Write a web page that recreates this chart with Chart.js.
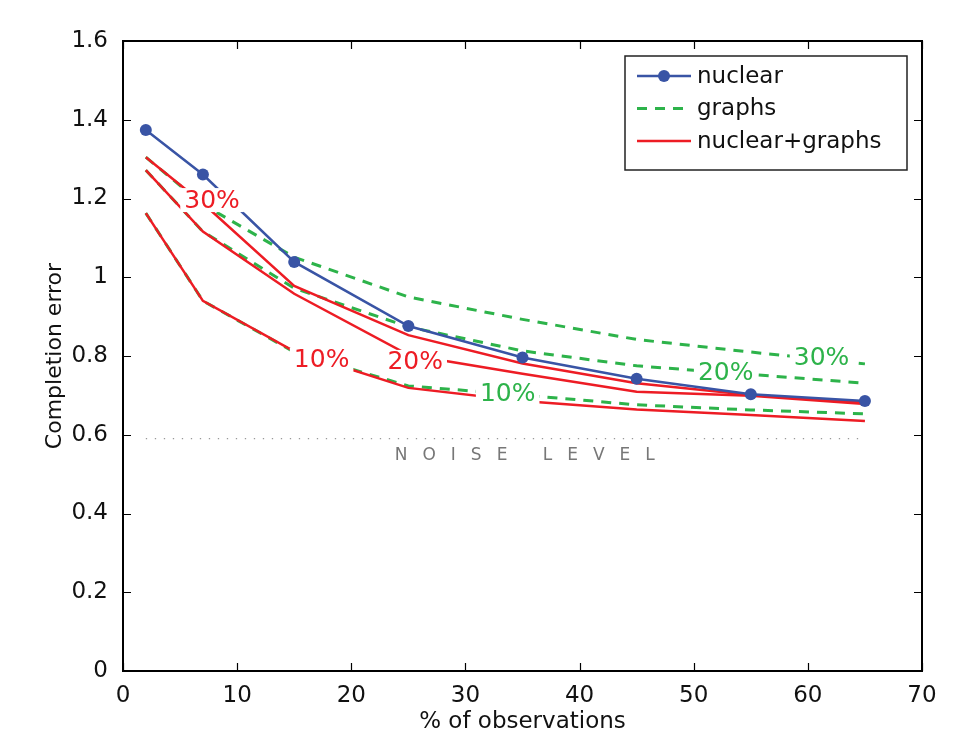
<!DOCTYPE html>
<html>
<head>
<meta charset="utf-8">
<script src="https://cdn.jsdelivr.net/npm/chart.js@4.4.1/dist/chart.umd.min.js"></script>
<style>
  body { margin: 0; background: #fff; }
  #myChart { display: block; }
</style>
</head>
<body>
<canvas id="myChart" width="974" height="731"></canvas>
<script>
"use strict"
// Daten
const xObs = [2, 7, 15, 25, 35, 45, 55, 65]           // % of observations
const nuclear   = [1.374, 1.261, 1.039, 0.876, 0.796, 0.742, 0.703, 0.686]
const graphs30  = [1.305, 1.185, 1.051, 0.950, 0.893, 0.842, 0.810, 0.780]
const graphs20  = [1.272, 1.116, 0.972, 0.874, 0.813, 0.775, 0.753, 0.731]
const graphs10  = [1.163, 0.940, 0.810, 0.724, 0.701, 0.676, 0.663, 0.653]
const both30    = [1.305, 1.188, 0.978, 0.853, 0.781, 0.731, 0.701, 0.681]
const both20    = [1.272, 1.116, 0.958, 0.803, 0.755, 0.709, 0.699, 0.678]
const both10    = [1.163, 0.940, 0.812, 0.719, 0.686, 0.664, 0.650, 0.635]
const noiseLevel = 0.59
const noiseRange = [2, 65]
const legendLabels = ['nuclear', 'graphs', 'nuclear+graphs']
const curveLabels = ['30%', '20%', '10%']
const yTickLabels = ['0', '0.2', '0.4', '0.6', '0.8', '1', '1.2', '1.4', '1.6']
const xTickLabels = ['0', '10', '20', '30', '40', '50', '60', '70']

const FONT = '"DejaVu Sans", "Liberation Sans", sans-serif'
const BLUE = '#3954a5'
const GREEN = '#2db34a'
const RED = '#ed1c24'

function pts(values) {
    return xObs.map((x, i) => ({ x: x, y: values[i] }))
}

// Beschriftungen an den Kurven (Position in Datenkoordinaten)
const curveTexts = [
    { text: curveLabels[0], x: 7.8,  y: 1.196, color: RED },
    { text: curveLabels[2], x: 17.4, y: 0.790, color: RED },
    { text: curveLabels[1], x: 25.6, y: 0.785, color: RED },
    { text: curveLabels[2], x: 33.7, y: 0.706, color: GREEN },
    { text: curveLabels[1], x: 52.8, y: 0.757, color: GREEN },
    { text: curveLabels[0], x: 61.2, y: 0.795, color: GREEN }
]

const lineBase = { fill: false, tension: 0, pointRadius: 0, borderWidth: 2.5 }

// erster Datensatz wird zuletzt (oben) gezeichnet
const datasets = [
    Object.assign({}, lineBase, { label: legendLabels[0], data: pts(nuclear), borderColor: BLUE,
        backgroundColor: BLUE, pointRadius: 6, pointBackgroundColor: BLUE, pointBorderWidth: 0, legendRow: 0 }),
    Object.assign({}, lineBase, { label: legendLabels[2], data: pts(both30), borderColor: RED, legendRow: 2 }),
    Object.assign({}, lineBase, { label: legendLabels[2], data: pts(both20), borderColor: RED }),
    Object.assign({}, lineBase, { label: legendLabels[2], data: pts(both10), borderColor: RED }),
    Object.assign({}, lineBase, { label: legendLabels[1], data: pts(graphs30), borderColor: GREEN, borderDash: [10, 8], borderWidth: 3, legendRow: 1 }),
    Object.assign({}, lineBase, { label: legendLabels[1], data: pts(graphs20), borderColor: GREEN, borderDash: [10, 8], borderWidth: 3 }),
    Object.assign({}, lineBase, { label: legendLabels[1], data: pts(graphs10), borderColor: GREEN, borderDash: [10, 8], borderWidth: 3 }),
    Object.assign({}, lineBase, { label: 'noise', data: noiseRange.map(x => ({ x: x, y: noiseLevel })),
        borderColor: '#999', borderWidth: 1.3, borderDash: [1.3, 7.7] })
]

// Rahmen, Ticks nach innen, Texte und Legende
const extras = {
    id: 'extras',
    afterDatasetsDraw(chart) {
        const ctx = chart.ctx
        const xs = chart.scales.x, ys = chart.scales.y
        ctx.save()
        ctx.font = '25px ' + FONT
        ctx.textAlign = 'center'
        ctx.textBaseline = 'middle'
        curveTexts.forEach(t => {
            const px = xs.getPixelForValue(t.x), py = ys.getPixelForValue(t.y)
            const w = ctx.measureText(t.text).width
            ctx.fillStyle = '#fff'
            ctx.fillRect(px - w / 2 - 4, py - 12, w + 8, 24)
            ctx.fillStyle = t.color
            ctx.fillText(t.text, px, py + 1)
        })
        // NOISE LEVEL
        ctx.font = '17px ' + FONT
        ctx.fillStyle = '#777'
        ctx.letterSpacing = '15px'
        const noiseText = 'NOISE LEVEL'
        const nw = ctx.measureText(noiseText).width - 15
        ctx.textAlign = 'left'
        ctx.fillText(noiseText, xs.getPixelForValue(35.2) - nw / 2, ys.getPixelForValue(noiseLevel) + 17)
        ctx.restore()
    },
    afterDraw(chart) {
        const ctx = chart.ctx
        const a = chart.chartArea
        const xs = chart.scales.x, ys = chart.scales.y
        ctx.save()
        ctx.strokeStyle = '#000'
        ctx.lineWidth = 1.2
        ctx.beginPath()
        xs.ticks.forEach(t => {
            const px = Math.round(xs.getPixelForValue(t.value)) + 0.5
            ctx.moveTo(px, a.bottom); ctx.lineTo(px, a.bottom - 8)
            ctx.moveTo(px, a.top); ctx.lineTo(px, a.top + 8)
        })
        ys.ticks.forEach(t => {
            const py = Math.round(ys.getPixelForValue(t.value)) + 0.5
            ctx.moveTo(a.left, py); ctx.lineTo(a.left + 8, py)
            ctx.moveTo(a.right, py); ctx.lineTo(a.right - 8, py)
        })
        ctx.stroke()
        ctx.lineWidth = 2
        ctx.strokeRect(a.left, a.top, a.right - a.left, a.bottom - a.top)

        // Legende
        const lw = 282, lh = 114
        const lx = a.right - 15 - lw, ly = a.top + 15
        ctx.fillStyle = '#fff'
        ctx.fillRect(lx, ly, lw, lh)
        ctx.lineWidth = 1.5
        ctx.strokeStyle = '#222'
        ctx.strokeRect(lx, ly, lw, lh)
        ctx.font = '23px ' + FONT
        ctx.textBaseline = 'middle'
        ctx.textAlign = 'left'
        chart.data.datasets.forEach(ds => {
            if (ds.legendRow === undefined) return
            const ry = ly + 20 + ds.legendRow * 32.5
            ctx.strokeStyle = ds.borderColor
            ctx.lineWidth = ds.borderWidth
            ctx.setLineDash(ds.borderDash || [])
            ctx.beginPath()
            ctx.moveTo(lx + 12, ry); ctx.lineTo(lx + 66, ry)
            ctx.stroke()
            ctx.setLineDash([])
            if (ds.pointRadius > 0) {
                ctx.fillStyle = ds.borderColor
                ctx.beginPath()
                ctx.arc(lx + 39, ry, ds.pointRadius, 0, Math.PI * 2)
                ctx.fill()
            }
            ctx.fillStyle = '#111'
            ctx.fillText(legendLabels[ds.legendRow], lx + 72, ry + 1)
        })
        ctx.restore()
    }
}

const config = {
    type: 'line',
    data: { datasets: datasets },
    options: {
        responsive: false,
        animation: false,
        layout: { padding: { top: 41, right: 52, left: 0, bottom: 0 } },
        plugins: { legend: { display: false }, tooltip: { enabled: false } },
        scales: {
            x: {
                type: 'linear', min: 0, max: 70,
                ticks: { stepSize: 10, padding: 3, color: '#111', font: { family: FONT, size: 23 },
                    callback: (v, i) => xTickLabels[i] },
                grid: { display: false }, border: { display: false },
                title: { display: true, text: '% of observations', color: '#111',
                    font: { family: FONT, size: 23, lineHeight: 1 }, padding: { top: 0, bottom: -3 } },
                afterFit: s => { s.height = 60 }
            },
            y: {
                min: 0, max: 1.6,
                ticks: { stepSize: 0.2, padding: 7, color: '#111', font: { family: FONT, size: 23 },
                    callback: (v, i) => yTickLabels[i] },
                grid: { display: false }, border: { display: false },
                title: { display: true, text: 'Completion error', color: '#111',
                    font: { family: FONT, size: 22, lineHeight: 1 }, padding: { top: 44, bottom: 0 } },
                afterFit: s => { s.width = 123 }
            }
        }
    },
    plugins: [extras]
}

new Chart(document.getElementById('myChart'), config)
</script>
</body>
</html>
